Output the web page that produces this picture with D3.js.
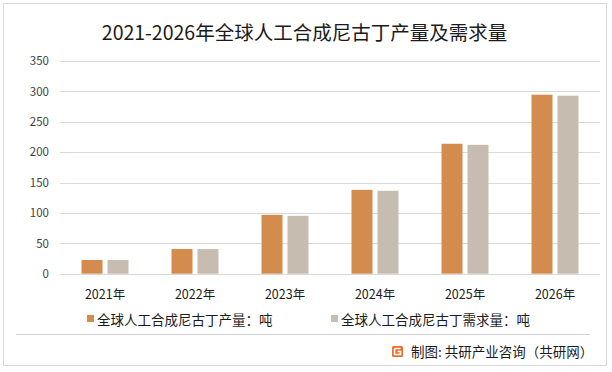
<!DOCTYPE html>
<html><head><meta charset="utf-8">
<script src="https://cdn.jsdelivr.net/npm/d3@7"></script>
<style>body{margin:0;background:#fff}svg{display:block}text{font-family:"Noto Sans CJK SC","Noto Sans",sans-serif}</style>
</head><body>
<svg id="c" width="612" height="372"></svg>
<script>
const years = ["2021年","2022年","2023年","2024年","2025年","2026年"];
const production = [22.6, 40.7, 96.8, 138, 213.8, 294.5];
const demand = [22.5, 40.5, 95.2, 136.4, 212.1, 292.9];
const seriesNames = ["全球人工合成尼古丁产量：吨","全球人工合成尼古丁需求量：吨"];
const colors = ["#D38C4E","#C6BCB0"];
const yTicks = [0,50,100,150,200,250,300,350];
const title = "2021-2026年全球人工合成尼古丁产量及需求量";
const source = "制图: 共研产业咨询（共研网）";

const svg = d3.select("#c");
svg.append("rect").attr("x",3.5).attr("y",3.5).attr("width",603).attr("height",362)
  .attr("fill","#fff").attr("stroke","#d9d9d9");

svg.append("text").attr("x",304.5).attr("y",40).attr("text-anchor","middle")
  .attr("font-size",19.5).attr("fill","#1a1a1a").text(title);

const x = d3.scaleBand().domain(years).range([60,600]);
const y = d3.scaleLinear().domain([0,350]).range([273.7,61]);

const grid = svg.append("g");
grid.selectAll("line").data(yTicks).join("line")
  .attr("x1",60).attr("x2",600).attr("y1",d=>Math.round(y(d))+0.5).attr("y2",d=>Math.round(y(d))+0.5)
  .attr("stroke","#d9d9d9").attr("stroke-width",1);

const yAxis = svg.append("g").attr("transform","translate(60,0)")
  .call(d3.axisLeft(y).tickValues(yTicks).tickSize(0).tickPadding(11));
yAxis.select(".domain").remove();
yAxis.selectAll("text").attr("font-size",11.5).attr("fill","#404040")
  .style("font-family","'Noto Sans CJK SC',sans-serif");

const xAxis = svg.append("g").attr("transform","translate(0,274)")
  .call(d3.axisBottom(x).tickSize(0).tickPadding(16));
xAxis.select(".domain").remove();
xAxis.selectAll("text").attr("font-size",12.5).attr("fill","#1a1a1a")
  .style("font-family","'Noto Sans CJK SC',sans-serif");

const bw = 21, gap = 5;
const series = [production, demand];
series.forEach((vals,si)=>{
  svg.append("g").selectAll("rect").data(vals).join("rect")
    .attr("x",(d,i)=>x(years[i]) + x.bandwidth()/2 + (si===0 ? -(bw+gap/2) : gap/2))
    .attr("y",d=>y(d)).attr("width",bw).attr("height",d=>y(0)-y(d))
    .attr("fill",colors[si]);
});

// legend
const legX = [87, 331];
seriesNames.forEach((n,i)=>{
  svg.append("rect").attr("x",legX[i]).attr("y",315).attr("width",7).attr("height",7).attr("fill",colors[i]);
  svg.append("text").attr("x",legX[i]+10).attr("y",325).attr("font-size",13.5).attr("fill","#1a1a1a").text(n);
});

svg.append("line").attr("x1",16).attr("x2",590).attr("y1",334.5).attr("y2",334.5).attr("stroke","#d0d0d0");

// logo
const lg = svg.append("g").attr("transform","translate(392,346)");
lg.append("rect").attr("width",11).attr("height",11).attr("rx",1.5).attr("fill","#EF6B2A");
lg.append("path").attr("d","M2.5,2.5 H8.5 M2.5,2.5 V8.5 H8.5 V5.5 H5.5").attr("stroke","#fff").attr("stroke-width",1.7).attr("fill","none");
svg.append("text").attr("x",411).attr("y",357).attr("font-size",13.5).attr("fill","#1a1a1a").text(source);
</script>
</body></html>
